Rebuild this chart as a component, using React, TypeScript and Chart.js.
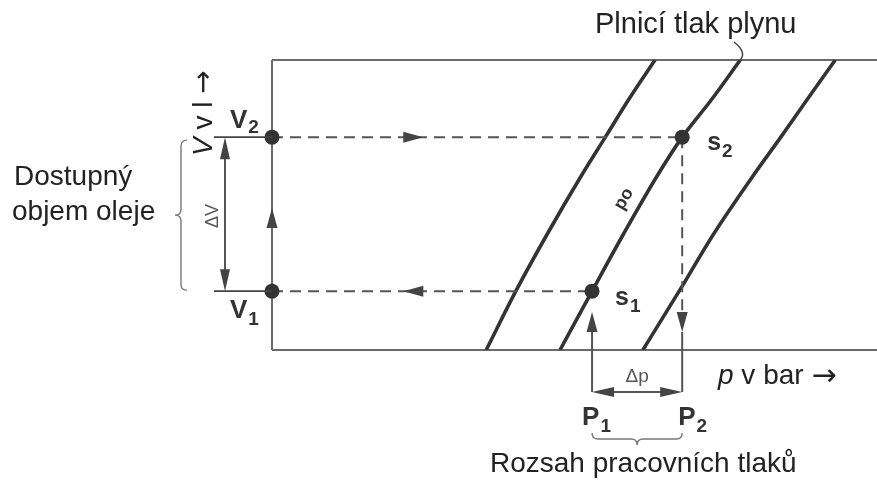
import React, { useEffect, useRef } from "react";
import { Chart, registerables } from "chart.js";
Chart.register(...registerables);

// ---- Data (pressure p and volume V in relative units, 0–100) ----
const curveVolumes = [0, 20.3, 40, 60, 73.4, 86.2, 100];
const pressureLow = [35.4, 40.3, 45.5, 51.1, 55.1, 58.9, 63.3];
const pressurePrefill = [47.6, 52.9, 58.1, 63.65, 67.8, 72.6, 77.4];
const pressureHigh = [61.3, 67.3, 73.0, 79.5, 84.1, 88.4, 93.1];
const volumeLevels = [20.3, 73.4]; // V1, V2
const workingPressures = [52.9, 67.8]; // P1, P2
const volumeLabels = ["V", "V"];
const pressureLabels = ["P", "P"];
const stateLabels = ["s", "s"];
const subscripts = ["1", "2"];
const curveLabel = "po";
const topLabel = "Plnicí tlak plynu";
const bottomLabel = "Rozsah pracovních tlaků";
const leftLabelLines = ["Dostupný", "objem oleje"];
const deltaV = "ΔV";
const deltaP = "Δp";

const SANS = '"Liberation Sans", Arial, sans-serif';
const ARROW_FONT = '"DejaVu Sans", sans-serif';

function arrowHead(ctx: CanvasRenderingContext2D, x: number, y: number, angle: number, len = 20, half = 5.5) {
  ctx.save();
  ctx.translate(x, y);
  ctx.rotate(angle);
  ctx.beginPath();
  ctx.moveTo(0, 0);
  ctx.lineTo(-len, -half);
  ctx.lineTo(-len, half);
  ctx.closePath();
  ctx.fill();
  ctx.restore();
}

function line(ctx: CanvasRenderingContext2D, x1: number, y1: number, x2: number, y2: number) {
  ctx.beginPath();
  ctx.moveTo(x1, y1);
  ctx.lineTo(x2, y2);
  ctx.stroke();
}

function subText(ctx: CanvasRenderingContext2D, main: string, sub: string, x: number, y: number, size: number, subSize: number, drop: number) {
  ctx.font = `bold ${size}px ${SANS}`;
  ctx.textAlign = "left";
  ctx.textBaseline = "alphabetic";
  ctx.fillText(main, x, y);
  const w = ctx.measureText(main).width;
  ctx.font = `bold ${subSize}px ${SANS}`;
  ctx.fillText(sub, x + w + 1, y + drop);
}

// curly brace, vertical, opening to the right; tip points left
function braceV(ctx: CanvasRenderingContext2D, xEnd: number, y1: number, y2: number, d: number) {
  const xm = xEnd - d / 2;
  const xt = xEnd - d;
  const ym = (y1 + y2) / 2;
  const r = 6;
  ctx.beginPath();
  ctx.moveTo(xEnd, y1);
  ctx.quadraticCurveTo(xm, y1, xm, y1 + r);
  ctx.lineTo(xm, ym - r);
  ctx.quadraticCurveTo(xm, ym, xt, ym);
  ctx.quadraticCurveTo(xm, ym, xm, ym + r);
  ctx.lineTo(xm, y2 - r);
  ctx.quadraticCurveTo(xm, y2, xEnd, y2);
  ctx.stroke();
}

// curly brace, horizontal, opening upward; tip points down
function braceH(ctx: CanvasRenderingContext2D, x1: number, x2: number, yEnd: number, d: number) {
  const ym = yEnd + d / 2;
  const yt = yEnd + d;
  const xm = (x1 + x2) / 2;
  const r = 6;
  ctx.beginPath();
  ctx.moveTo(x1, yEnd);
  ctx.quadraticCurveTo(x1, ym, x1 + r, ym);
  ctx.lineTo(xm - r, ym);
  ctx.quadraticCurveTo(xm, ym, xm, yt);
  ctx.quadraticCurveTo(xm, ym, xm + r, ym);
  ctx.lineTo(x2 - r, ym);
  ctx.quadraticCurveTo(x2, ym, x2, yEnd);
  ctx.stroke();
}

const framePlugin = {
  id: "frame",
  beforeDatasetsDraw(chart: any) {
    const { ctx, chartArea } = chart;
    ctx.save();
    ctx.strokeStyle = "#6a6a6a";
    ctx.lineWidth = 2;
    line(ctx, chartArea.left, chartArea.top, chartArea.right, chartArea.top);
    line(ctx, chartArea.left, chartArea.bottom, chartArea.right, chartArea.bottom);
    line(ctx, chartArea.left, chartArea.top, chartArea.left, chartArea.bottom);
    ctx.restore();
  },
};

const annotationPlugin = {
  id: "annotations",
  afterDatasetsDraw(chart: any) {
    const { ctx, chartArea } = chart;
    const xs = chart.scales.x;
    const ys = chart.scales.y;
    const X = (v: number) => xs.getPixelForValue(v);
    const Y = (v: number) => ys.getPixelForValue(v);
    const left = chartArea.left;
    const bottom = chartArea.bottom;
    const yV1 = Y(volumeLevels[0]);
    const yV2 = Y(volumeLevels[1]);
    const xP1 = X(workingPressures[0]);
    const xP2 = X(workingPressures[1]);
    ctx.save();

    // arrows on left edge and dashed lines
    ctx.fillStyle = "#444";
    arrowHead(ctx, left, Y(49), -Math.PI / 2);
    arrowHead(ctx, X(25), yV2, 0);
    arrowHead(ctx, X(21.7), yV1, Math.PI);

    // P2 arrow down + solid continuation
    const dimY = bottom + 42;
    ctx.strokeStyle = "#555";
    ctx.lineWidth = 2;
    arrowHead(ctx, xP2, Y(6.2), Math.PI / 2);
    line(ctx, xP2, Y(6.2), xP2, dimY);
    // P1 arrow up from below
    line(ctx, xP1, Y(13.1) + 18, xP1, dimY);
    arrowHead(ctx, xP1, Y(13.1), -Math.PI / 2);

    // Δp dimension
    ctx.lineWidth = 1.8;
    line(ctx, xP1 + 10, dimY, xP2 - 10, dimY);
    arrowHead(ctx, xP1, dimY, Math.PI, 22, 5);
    arrowHead(ctx, xP2, dimY, 0, 22, 5);

    // ΔV dimension
    const dimX = left - 47;
    ctx.strokeStyle = "#444";
    ctx.lineWidth = 1.8;
    line(ctx, left - 58, yV2, left, yV2);
    line(ctx, left - 58, yV1, left, yV1);
    line(ctx, dimX, yV2 + 10, dimX, yV1 - 10);
    arrowHead(ctx, dimX, yV2, -Math.PI / 2, 22, 5);
    arrowHead(ctx, dimX, yV1, Math.PI / 2, 22, 5);

    // braces
    ctx.strokeStyle = "#777";
    ctx.lineWidth = 1.4;
    braceV(ctx, 187, yV2 + 3, yV1 - 1, 12);
    braceH(ctx, xP1, xP2, bottom + 83, 12);

    // leader for top label
    ctx.strokeStyle = "#444";
    ctx.lineWidth = 1.5;
    ctx.beginPath();
    ctx.moveTo(734, 42);
    ctx.quadraticCurveTo(747, 52, X(77.4), chartArea.top);
    ctx.stroke();

    // ---- texts ----
    ctx.fillStyle = "#222";
    ctx.textBaseline = "alphabetic";
    ctx.textAlign = "left";
    ctx.font = `29px ${SANS}`;
    ctx.fillText(topLabel, 595, 33);
    ctx.font = `28px ${SANS}`;
    ctx.fillText(leftLabelLines[0], 14, 185);
    ctx.fillText(leftLabelLines[1], 12, 220);
    ctx.fillText(bottomLabel, 490, 472);

    // p v bar →
    ctx.font = `italic 28px ${SANS}`;
    ctx.fillText("p", 718, 384);
    let w = ctx.measureText("p").width;
    ctx.font = `28px ${SANS}`;
    ctx.fillText(" v bar ", 718 + w, 384);
    w += ctx.measureText(" v bar ").width;
    ctx.font = `30px ${ARROW_FONT}`;
    ctx.fillText("\u2192", 718 + w, 385);

    // V v l → (rotated)
    ctx.save();
    ctx.translate(212, 156);
    ctx.rotate(-Math.PI / 2);
    ctx.font = `italic 28px ${SANS}`;
    ctx.fillText("V", 0, 0);
    w = ctx.measureText("V").width;
    ctx.font = `28px ${SANS}`;
    ctx.fillText(" v l ", w, 0);
    w += ctx.measureText(" v l ").width;
    ctx.font = `28px ${ARROW_FONT}`;
    ctx.fillText("\u2192", w, 0);
    ctx.restore();

    // ΔV rotated
    ctx.save();
    ctx.fillStyle = "#555";
    ctx.translate(218, 228);
    ctx.rotate(-Math.PI / 2);
    ctx.font = `18px ${SANS}`;
    ctx.fillText(deltaV, 0, 0);
    ctx.restore();

    // Δp
    ctx.fillStyle = "#555";
    ctx.font = `19px ${SANS}`;
    ctx.textAlign = "center";
    ctx.fillText(deltaP, (xP1 + xP2) / 2, 382);
    ctx.textAlign = "left";

    // level & state labels
    ctx.fillStyle = "#333";
    subText(ctx, volumeLabels[1], subscripts[1], 230, 128, 26, 19, 5);
    subText(ctx, volumeLabels[0], subscripts[0], 230, 318, 26, 19, 7);
    subText(ctx, pressureLabels[0], subscripts[0], xP1 - 10, 425, 26, 19, 7);
    subText(ctx, pressureLabels[1], subscripts[1], xP2 - 4, 425, 26, 19, 7);
    subText(ctx, stateLabels[1], subscripts[1], xP2 + 25, 150, 25, 19, 7);
    subText(ctx, stateLabels[0], subscripts[0], xP1 + 23, 305, 25, 19, 7);

    // po along curve
    ctx.save();
    ctx.translate(624, 199);
    ctx.rotate(-Math.PI / 3);
    ctx.font = `bold 18px ${SANS}`;
    ctx.textAlign = "center";
    ctx.textBaseline = "middle";
    ctx.fillText(curveLabel, 0, 0);
    ctx.restore();

    ctx.restore();
  },
};

export default function App() {
  const ref = useRef<HTMLCanvasElement | null>(null);
  useEffect(() => {
    document.body.style.margin = "0";
    const canvas = ref.current;
    if (!canvas) return;
    const curve = (ps: number[]) => curveVolumes.map((v, i) => ({ x: ps[i], y: v }));
    const dashed = {
      showLine: true,
      borderColor: "#555",
      borderWidth: 2,
      borderDash: [11, 7],
      pointRadius: 0,
      clip: false,
    };
    const solidCurve = {
      showLine: true,
      borderColor: "#333",
      borderWidth: 3.6,
      pointRadius: 0,
      cubicInterpolationMode: "monotone",
    };
    const chart = new Chart(canvas, {
      type: "scatter",
      data: {
        datasets: [
          {
            data: [
              { x: 0, y: volumeLevels[1] },
              { x: workingPressures[1], y: volumeLevels[1] },
              { x: workingPressures[0], y: volumeLevels[0] },
              { x: 0, y: volumeLevels[0] },
            ],
            showLine: false,
            pointRadius: 7.5,
            backgroundColor: "#333",
            borderWidth: 0,
            clip: false,
          } as any,
          { ...dashed, data: [{ x: 0, y: volumeLevels[1] }, { x: workingPressures[1], y: volumeLevels[1] }] } as any,
          { ...dashed, data: [{ x: 0, y: volumeLevels[0] }, { x: workingPressures[0], y: volumeLevels[0] }] } as any,
          { ...dashed, data: [{ x: workingPressures[1], y: volumeLevels[1] }, { x: workingPressures[1], y: 13.1 }] } as any,
          { ...solidCurve, data: curve(pressureLow) } as any,
          { ...solidCurve, data: curve(pressurePrefill) } as any,
          { ...solidCurve, data: curve(pressureHigh) } as any,
        ],
      },
      options: {
        responsive: false,
        animation: false,
        layout: { autoPadding: false, padding: { left: 272, top: 60, right: 0, bottom: 130 } },
        scales: {
          x: { type: "linear", min: 0, max: 100, display: false },
          y: { type: "linear", min: 0, max: 100, display: false },
        },
        plugins: { legend: { display: false }, tooltip: { enabled: false } },
      } as any,
      plugins: [framePlugin, annotationPlugin],
    });
    return () => chart.destroy();
  }, []);
  return <canvas ref={ref} width={877} height={480} style={{ display: "block" }} />;
}
